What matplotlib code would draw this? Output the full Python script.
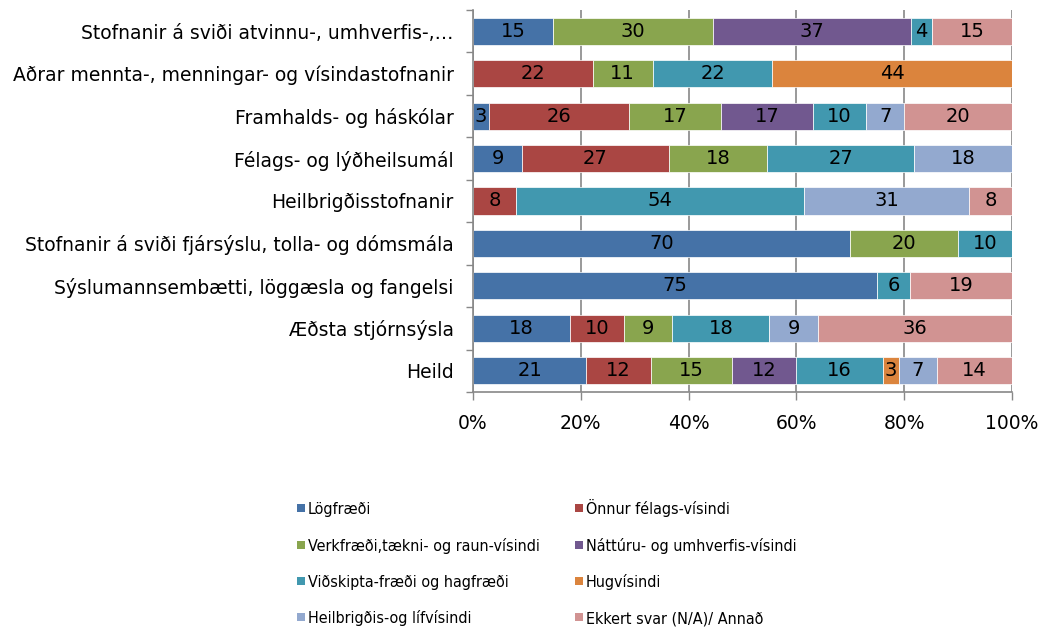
import numpy as np
import matplotlib
matplotlib.use("Agg")
import matplotlib.pyplot as plt
from matplotlib.patches import Rectangle

# categories, top to bottom as in the chart
categories = [
    "Stofnanir á sviði atvinnu-, umhverfis-,…",
    "Aðrar mennta-, menningar- og vísindastofnanir",
    "Framhalds- og háskólar",
    "Félags- og lýðheilsumál",
    "Heilbrigðisstofnanir",
    "Stofnanir á sviði fjársýslu, tolla- og dómsmála",
    "Sýslumannsembætti, löggæsla og fangelsi",
    "Æðsta stjórnsýsla",
    "Heild",
]

series_names = [
    "Lögfræði",
    "Önnur félags-vísindi",
    "Verkfræði,tækni- og raun-vísindi",
    "Náttúru- og umhverfis-vísindi",
    "Viðskipta-fræði og hagfræði",
    "Hugvísindi",
    "Heilbrigðis-og lífvísindi",
    "Ekkert svar (N/A)/ Annað",
]

# values per series, one entry per category (same order as categories)
logfraedi   = [15, 0, 3, 9, 0, 70, 75, 18, 21]
onnur       = [0, 22, 26, 27, 8, 0, 0, 10, 12]
verkfraedi  = [30, 11, 17, 18, 0, 20, 0, 9, 15]
natturu     = [37, 0, 17, 0, 0, 0, 0, 0, 12]
vidskipta   = [4, 22, 10, 27, 54, 10, 6, 18, 16]
hugvisindi  = [0, 44, 0, 0, 0, 0, 0, 0, 3]
heilbrigdis = [0, 0, 7, 18, 31, 0, 0, 9, 7]
ekkert      = [15, 0, 20, 0, 8, 0, 19, 36, 14]

colors = ["#4572A7", "#AA4643", "#89A54E", "#71588F",
          "#4198AF", "#DB843D", "#93A9CF", "#D19392"]

data = np.array([logfraedi, onnur, verkfraedi, natturu,
                 vidskipta, hugvisindi, heilbrigdis, ekkert], dtype=float)
pct = data / data.sum(axis=0) * 100

W, H = 1045, 630
fig = plt.figure(figsize=(W / 100, H / 100), dpi=100)
ax = fig.add_axes([473 / W, 1 - 392 / H, (1012 - 473) / W, 382 / H])

y = np.arange(len(categories))
left = np.zeros(len(categories))
for i, name in enumerate(series_names):
    ax.barh(y, pct[i], left=left, height=0.64, color=colors[i],
            edgecolor="white", linewidth=0.5, label=name, zorder=2)
    for j in range(len(categories)):
        if data[i, j] > 0:
            ax.text(left[j] + pct[i, j] / 2, y[j], f"{int(data[i, j])}",
                    ha="center", va="center", fontsize=14, color="black", zorder=3)
    left += pct[i]

ax.set_xlim(0, 100)
ax.set_ylim(len(categories) - 0.5, -0.5)
ax.set_xticks(np.arange(0, 101, 20))
ax.set_xticklabels([f"{v}%" for v in range(0, 101, 20)], fontsize=13.5)
ax.set_yticks(y)
ax.set_yticklabels(categories, fontsize=13.5)
ax.set_yticks(np.arange(-0.5, len(categories), 1), minor=True)
ax.tick_params(axis="y", which="major", length=0, pad=14)
ax.tick_params(axis="y", which="minor", length=5, color="#888888", width=1)
ax.tick_params(axis="x", length=6, color="#888888", width=1, pad=10)

ax.grid(axis="x", color="#888888", linewidth=1.2, zorder=0)
ax.set_axisbelow(True)
for s in ["top", "right"]:
    ax.spines[s].set_visible(False)
for s in ["left", "bottom"]:
    ax.spines[s].set_color("#888888")
    ax.spines[s].set_linewidth(1.2)

# legend drawn by hand: two columns, filled row by row like the original
row_y = [508, 545, 581, 617]
col_x = [297, 575]
for k, name in enumerate(series_names):
    cx = col_x[k % 2]
    cy = row_y[k // 2]
    fig.patches.append(Rectangle((cx / W, 1 - (cy + 4) / H), 8 / W, 8 / H,
                                 transform=fig.transFigure, facecolor=colors[k],
                                 edgecolor="none"))
    fig.text((cx + 11) / W, 1 - (cy + 6) / H, name, ha="left", va="baseline",
             fontsize=11.5, fontfamily="DejaVu Sans", fontstretch="condensed")

fig.savefig("out.png", dpi=100)
